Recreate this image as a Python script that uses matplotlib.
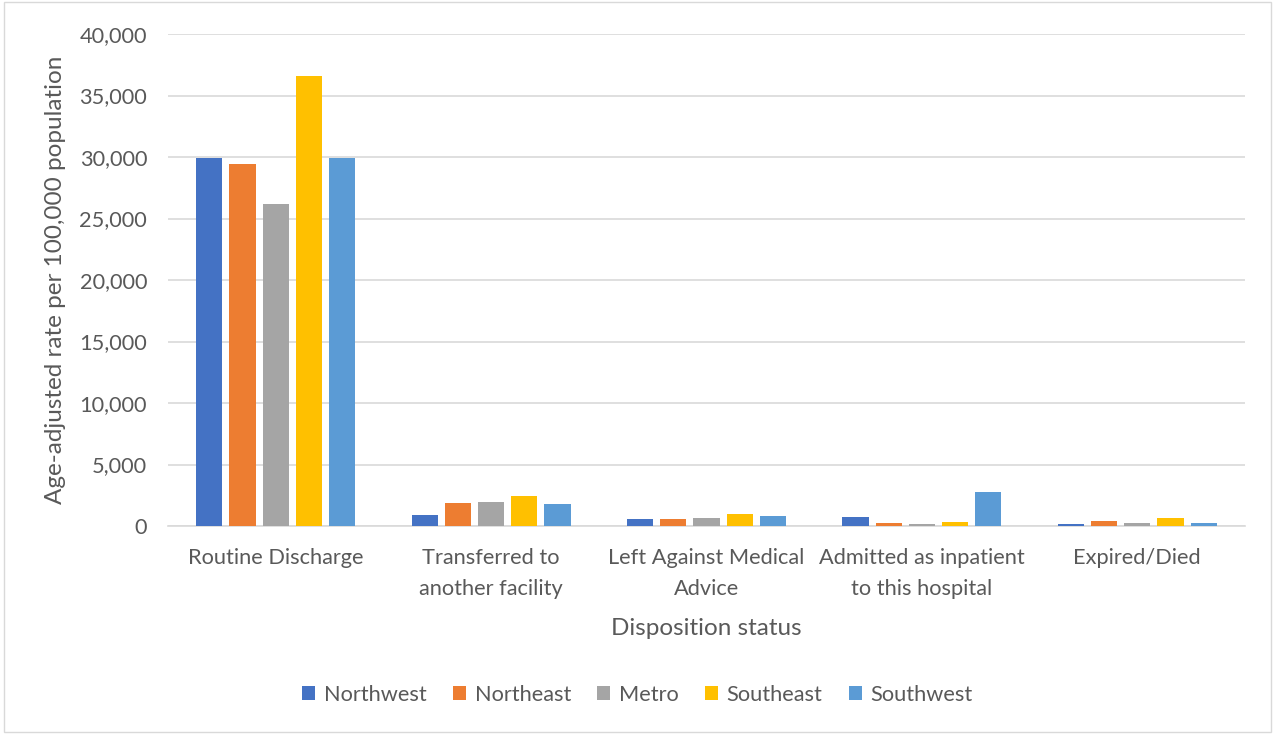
import matplotlib.pyplot as plt
import numpy as np

plt.rcParams['font.family'] = ['Lato', 'DejaVu Sans']

# categories and values
categories = ["Routine Discharge", "Transferred to\nanother facility", "Left Against Medical\nAdvice",
              "Admitted as inpatient\nto this hospital", "Expired/Died"]
regions = ["Northwest", "Northeast", "Metro", "Southeast", "Southwest"]
northwest = [29900, 900, 600, 700, 190]
northeast = [29400, 1900, 540, 270, 430]
metro = [26180, 1950, 620, 130, 210]
southeast = [36590, 2450, 950, 300, 650]
southwest = [29900, 1820, 840, 2770, 245]
colors = ["#4472C4", "#ED7D31", "#A5A5A5", "#FFC000", "#5B9BD5"]

series = [northwest, northeast, metro, southeast, southwest]
text_color = "#595959"

fig = plt.figure(figsize=(12.75, 7.34), dpi=100)
ax = fig.add_axes([168 / 1275, 1 - 526 / 734, (1245 - 168) / 1275, (526 - 34) / 734])

x = np.arange(len(categories))
step = 0.154
width = 0.122
for i, (vals, name, c) in enumerate(zip(series, regions, colors)):
    ax.bar(x + (i - 2) * step, vals, width, color=c, label=name, zorder=3)

ax.set_xlim(-0.5, len(categories) - 0.5)
ax.set_ylim(0, 40000)
ax.set_yticks(np.arange(0, 40001, 5000))
ax.set_yticklabels([f"{v:,}" for v in range(0, 40001, 5000)])
ax.set_xticks(x)
ax.set_xticklabels(categories, linespacing=1.65)
ax.grid(axis='y', color="#D9D9D9", linewidth=1.2, zorder=0)
for s in ['top', 'right', 'left']:
    ax.spines[s].set_visible(False)
ax.spines['bottom'].set_color("#D9D9D9")
ax.spines['bottom'].set_linewidth(1.2)
ax.tick_params(axis='both', length=0, labelsize=15.7, colors=text_color)
ax.tick_params(axis='x', pad=16)
ax.tick_params(axis='y', pad=15)

ax.set_xlabel("Disposition status", fontsize=17.5, color=text_color, labelpad=14)
ax.set_ylabel("Age-adjusted rate per 100,000 population", fontsize=17.5, color=text_color, labelpad=10)

fig.legend(loc='center', bbox_to_anchor=(0.5, 1 - 695 / 734), ncol=5, frameon=False,
           fontsize=15.7, handlelength=0.6, handleheight=0.6, columnspacing=1.2,
           handletextpad=0.4, labelcolor=text_color)

# light border around the whole chart
fig.patches.append(plt.Rectangle((0.003, 0.003), 0.994, 0.994, transform=fig.transFigure,
                                 fill=False, edgecolor="#D9D9D9", linewidth=1))

fig.savefig("out.png", dpi=100)
